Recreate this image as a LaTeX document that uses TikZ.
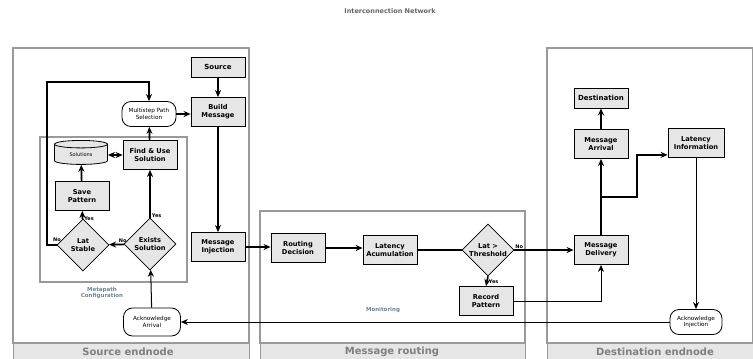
\documentclass[tikz,border=0pt]{standalone}
\usepackage{fontspec}
\setmainfont{DejaVu Sans}
\usetikzlibrary{shapes.geometric,arrows.meta}

\definecolor{cinza}{HTML}{E6E6E6}
\definecolor{borda}{HTML}{9A9A9A}
\definecolor{titulo}{HTML}{7F7F7F}
\definecolor{azul}{HTML}{6F8499}

\begin{document}
\begin{tikzpicture}[x=1pt,y=-1pt]
        \tikzstyle{caixa}=[fill=cinza, draw=black, line width=0.8pt, minimum width=54pt, minimum height=29pt, inner sep=1pt, align=center, font=\fontsize{6.7}{7.7}\selectfont\bfseries]
        \tikzstyle{losango}=[diamond, aspect=1, fill=cinza, draw=black, line width=0.8pt, minimum width=52pt, minimum height=52pt, inner sep=0pt, align=center, font=\fontsize{6.7}{7.7}\selectfont\bfseries]
        \tikzstyle{arredondado}=[fill=white, draw=black, line width=0.8pt, rounded corners=9pt, minimum width=54pt, minimum height=25pt, inner sep=1pt, align=center, font=\fontsize{5.7}{6.7}\selectfont]
        \tikzstyle{painel}=[draw=borda, line width=1.5pt]
        \tikzstyle{barra}=[fill=cinza, draw=borda, line width=1pt]
        \tikzstyle{rotulo}=[inner sep=1pt, font=\fontsize{5}{6}\selectfont\bfseries]
        \tikzstyle{seta}=[-{Stealth[length=7pt,width=6pt]}, line width=1.7pt]
        \tikzstyle{fina}=[-{Stealth[length=7pt,width=6pt]}, line width=1pt]

        \useasboundingbox (0,0) rectangle (753,359);

        % panels
        \draw[painel] (13,48) rectangle (249,343);
        \draw[painel] (260,211) rectangle (525,343);
        \draw[painel] (547,48) rectangle (753,343);
        \draw[painel] (40,137) rectangle (187,282);
        \draw[barra] (13,343) rectangle (249,359);
        \draw[barra] (260,343) rectangle (525,359);
        \draw[barra] (547,343) rectangle (753,359);

        \node (tsrc) at (128,352)[text=titulo, font=\fontsize{10}{11}\selectfont\bfseries]{Source endnode};
        \node (trot) at (392,352)[text=titulo, font=\fontsize{10}{11}\selectfont\bfseries]{Message routing};
        \node (tdst) at (655,352)[text=titulo, font=\fontsize{10}{11}\selectfont\bfseries]{Destination endnode};
        \node (tnet) at (390,11)[text=titulo!80!black, font=\fontsize{6.5}{7.5}\selectfont\bfseries]{Interconnection Network};
        \node (tmeta) at (102,293)[text=azul, align=center, font=\fontsize{5.5}{6.5}\selectfont\bfseries]{Metapath\\Configuration};
        \node (tmon) at (383,310)[text=azul, font=\fontsize{5.5}{6.5}\selectfont\bfseries]{Monitoring};

        % source endnode
        \node (src) at (218,67)[caixa, minimum height=20pt, font=\fontsize{7}{8}\selectfont\bfseries]{Source};
        \node (build) at (218,112)[caixa]{Build\\Message};
        \node (multi) at (149,114)[arredondado]{Multistep Path\\Selection};
        \node (sol) at (81,155)[cylinder, shape border rotate=90, aspect=0.3, fill=cinza, draw=black, line width=0.8pt, minimum width=53pt, minimum height=24pt, inner sep=1pt, font=\fontsize{5}{6}\selectfont]{Solutions};
        \node (find) at (150,155)[caixa]{Find \& Use\\Solution};
        \node (save) at (82,196)[caixa]{Save\\Pattern};
        \node (lstab) at (83,245)[losango]{Lat\\Stable};
        \node (exists) at (150,244)[losango]{Exists\\Solution};
        \node (inj) at (218,247)[caixa]{Message\\Injection};
        \node (ackarr) at (152,322)[arredondado, minimum width=57pt, minimum height=28pt]{Acknowledge\\Arrival};

        % message routing
        \node (rdec) at (298,248)[caixa]{Routing\\Decision};
        \node (lacc) at (390,250)[caixa]{Latency\\Acumulation};
        \node (thr) at (488,250)[losango]{Lat >\\Threshold};
        \node (rec) at (486,301)[caixa]{Record\\Pattern};

        % destination endnode
        \node (deliv) at (601,250)[caixa]{Message\\Delivery};
        \node (arr) at (601,144)[caixa]{Message\\Arrival};
        \node (dst) at (601,98)[caixa, minimum height=20pt, font=\fontsize{7}{8}\selectfont\bfseries]{Destination};
        \node (linfo) at (696,143)[caixa, minimum width=56pt]{Latency\\Information};
        \node (ackinj) at (696,322)[arredondado, minimum width=52pt]{Acknowledge\\Injection};

        \coordinate (volta1) at (47,82);
        \coordinate (volta2) at (149,82);
        \coordinate (ramo) at (601,197);
        \coordinate (ramo2) at (637,197);

        % connectors
        \draw[seta] (src) -- (build);
        \draw[seta] (multi.east) -- (multi.east -| build.west);
        \draw[seta] (build) -- (inj);
        \draw[seta] (inj.east) -- (inj.east -| rdec.west);
        \draw[seta] (rdec.east) -- (rdec.east -| lacc.west);
        \draw[line width=1.7pt] (lacc.east) -- (thr.west);
        \draw[seta] (thr.east) -- (deliv.west) node[pos=0.08, above, rotulo]{No};
        \draw[seta] (thr.south) -- (rec.north) node[pos=0.5, right, rotulo]{Yes};
        \draw[fina] (rec.east) -| (deliv.south);
        \draw[seta] (deliv) -- (arr);
        \draw[seta] (ramo) -- (ramo2) |- ([yshift=3pt]linfo.south west);
        \draw[seta] (arr) -- (dst);
        \draw[fina] (linfo) -- (ackinj);
        \draw[fina] (ackinj) -- (ackarr);
        \draw[fina] (ackarr) -- (exists);
        \draw[seta] (exists) -- (find) node[pos=0.05, right, rotulo]{Yes};
        \draw[seta] (exists) -- (lstab) node[pos=0.08, above, rotulo]{No};
        \draw[seta] (lstab) -- (save) node[pos=0.1, right, rotulo]{Yes};
        \draw[seta] (lstab.west) -| (volta1) -- (volta2) -- (multi.north);
        \node (nlstab) at (57,240)[rotulo]{No};
        \draw[seta] (find) -- (multi);
        \draw[{Stealth[length=7pt,width=6pt]}-{Stealth[length=7pt,width=6pt]}, line width=1.7pt] (find) -- (sol);
        \draw[seta] (save) -- (sol);
\end{tikzpicture}
\end{document}
